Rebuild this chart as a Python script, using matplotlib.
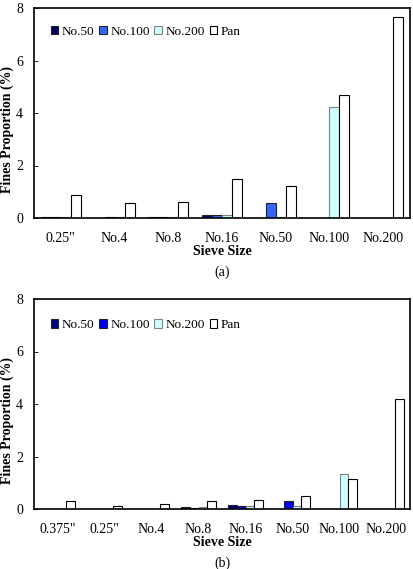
import matplotlib
matplotlib.use("Agg")
import matplotlib.pyplot as plt
import numpy as np

plt.rcParams['font.family'] = ['Liberation Serif', 'DejaVu Serif']

series = ["No.50", "No.100", "No.200", "Pan"]

cats_a = ['0.25"', "No.4", "No.8", "No.16", "No.50", "No.100", "No.200"]
no50_a = [0.02, 0.01, 0.02, 0.10, 0.0, 0.0, 0.0]
no100_a = [0.02, 0.02, 0.02, 0.10, 0.57, 0.0, 0.0]
no200_a = [0.05, 0.02, 0.05, 0.13, 0.05, 4.24, 0.0]
pan_a = [0.88, 0.58, 0.60, 1.48, 1.22, 4.67, 7.65]

cats_b = ['0.375"', '0.25"', "No.4", "No.8", "No.16", "No.50", "No.100", "No.200"]
no50_b = [0.01, 0.01, 0.01, 0.08, 0.15, 0.0, 0.0, 0.0]
no100_b = [0.01, 0.01, 0.01, 0.05, 0.13, 0.30, 0.0, 0.0]
no200_b = [0.01, 0.01, 0.01, 0.07, 0.10, 0.10, 1.33, 0.0]
pan_b = [0.30, 0.10, 0.19, 0.32, 0.35, 0.50, 1.14, 4.18]

colors_a = ["#000066", "#3366FF", "#CCFFFF", "#FFFFFF"]
colors_b = ["#000080", "#0000FF", "#CCFFFF", "#FFFFFF"]
edges = ["#222222", "#222222", "#808080", "#000000"]

fig = plt.figure(figsize=(4.14, 5.69), dpi=100)

def panel(rect, cats, data, colors, caption, leg_y):
    ax = fig.add_axes(rect)
    x = np.arange(len(cats))
    w = 0.186
    for i, (vals, c, e, name) in enumerate(zip(data, colors, edges, series)):
        ax.bar(x + (i - 1.5) * w, vals, width=w, color=c, edgecolor=e,
               linewidth=0.8, label=name)
    ax.set_xlim(-0.5, len(cats) - 0.5)
    ax.set_ylim(0, 8)
    ax.set_yticks([0, 2, 4, 6, 8])
    ax.set_xticks(x)
    ax.set_xticklabels(cats, fontsize=10)
    ax.tick_params(axis='x', length=0, pad=10)
    ax.tick_params(axis='y', direction='in', length=3, labelsize=10, pad=8, width=0.6)
    for s in ax.spines.values():
        s.set_linewidth(1.2)
    ax.set_xlabel("Sieve Size", fontsize=10, fontweight='bold', labelpad=0)
    ax.set_ylabel("Fines Proportion (%)", fontsize=10, fontweight='bold')
    ax.yaxis.set_label_coords(-0.052, 0.42)
    ax.legend(loc='center left', bbox_to_anchor=(0.03, leg_y), ncol=4,
              frameon=False, fontsize=9.5, handlelength=0.6, handleheight=0.6,
              handletextpad=0.25, columnspacing=0.35, borderaxespad=0)
    ax.text(0.5, -0.26, caption, transform=ax.transAxes, ha='center', va='center',
            fontsize=10)
    return ax

panel([34/414, 1 - 218/569, 376/414, 210/569], cats_a,
      [no50_a, no100_a, no200_a, pan_a], colors_a, "(a)", 0.886)
panel([34/414, 1 - 509/569, 376/414, 210/569], cats_b,
      [no50_b, no100_b, no200_b, pan_b], colors_b, "(b)", 0.876)

fig.savefig("out.png", dpi=100)
